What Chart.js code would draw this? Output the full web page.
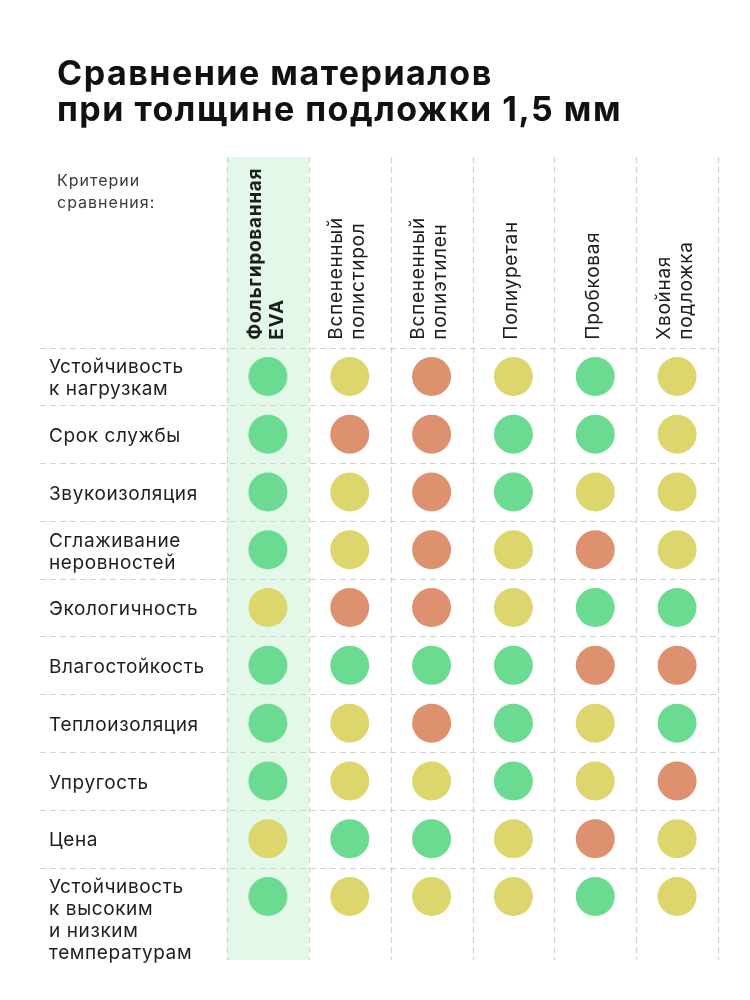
<!DOCTYPE html>
<html><head><meta charset="utf-8">
<script src="https://cdn.jsdelivr.net/npm/chart.js@4.4.1/dist/chart.umd.min.js"></script>
<style>html,body{margin:0;padding:0;background:#fff;}#wrap{width:750px;height:1000px;position:relative;}</style>
</head><body><div id="wrap"><canvas id="c"></canvas></div>
<script>
const titleLines = ["Сравнение материалов", "при толщине подложки 1,5 мм"];
const cornerLabel = ["Критерии", "сравнения:"];
const materials = [["Фольгированная","EVA"],["Вспененный","полистирол"],["Вспененный","полиэтилен"],["Полиуретан"],["Пробковая"],["Хвойная","подложка"]];
const criteria = [["Устойчивость","к нагрузкам"],["Срок службы"],["Звукоизоляция"],["Сглаживание","неровностей"],["Экологичность"],["Влагостойкость"],["Теплоизоляция"],["Упругость"],["Цена"],["Устойчивость","к высоким","и низким","температурам"]];
// 3 = green (хорошо), 2 = yellow (средне), 1 = orange (плохо); order follows criteria
const foilEVA      = [3,3,3,3,2,3,3,3,2,3];
const polystyrene  = [2,1,2,2,1,3,2,2,3,2];
const polyethylene = [1,1,1,1,1,3,1,2,3,2];
const polyurethane = [2,3,3,2,2,3,3,3,2,2];
const cork         = [3,3,2,1,3,1,2,2,1,3];
const conifer      = [2,2,2,2,3,1,3,1,2,2];
const ratings = [foilEVA, polystyrene, polyethylene, polyurethane, cork, conifer];
const levels = [3,2,1];
const levelColors = {3:'#6cdb92', 2:'#ddd66c', 1:'#dd916e'};

const FONT = 'Inter, "Noto Sans", sans-serif';

const datasets = levels.map(lv => {
  const pts = [];
  ratings.forEach((col, j) => col.forEach((v, i) => { if (v === lv) pts.push({x: j + 0.5, y: i + 0.5}); }));
  return {data: pts, backgroundColor: levelColors[lv], borderWidth: 0, pointRadius: 19.5, pointHoverRadius: 19.5};
});

function spacing(ctx, px) { if ('letterSpacing' in ctx) ctx.letterSpacing = px + 'px'; }

const tablePlugin = {
  id: 'table',
  beforeDatasetsDraw(chart) {
    const {ctx, chartArea: ca, scales: {x, y}} = chart;
    ctx.save();
    // highlighted first column
    ctx.fillStyle = '#e3f8e8';
    ctx.fillRect(x.getPixelForValue(0), ca.top, x.getPixelForValue(1) - x.getPixelForValue(0), ca.bottom - ca.top);
    // dashed grid
    ctx.strokeStyle = '#d2d2d2';
    ctx.lineWidth = 1.2;
    ctx.setLineDash([6, 4]);
    for (let j = 0; j <= materials.length; j++) {
      const px = Math.round(x.getPixelForValue(j)) + 0.5;
      ctx.beginPath(); ctx.moveTo(px, ca.top); ctx.lineTo(px, ca.bottom); ctx.stroke();
    }
    for (let i = 0; i < criteria.length; i++) {
      const py = Math.round(y.getPixelForValue(i)) + 0.5;
      ctx.beginPath(); ctx.moveTo(40, py); ctx.lineTo(ca.right, py); ctx.stroke();
    }
    ctx.setLineDash([]);
    // title
    ctx.fillStyle = '#111';
    ctx.textAlign = 'left';
    ctx.textBaseline = 'alphabetic';
    ctx.font = 'bold 34px ' + FONT;
    spacing(ctx, 1.5);
    ctx.fillText(titleLines[0], 57, 85);
    ctx.fillText(titleLines[1], 57, 121);
    // corner label
    ctx.fillStyle = '#3a3a3a';
    ctx.font = '16px ' + FONT;
    spacing(ctx, 1);
    ctx.textBaseline = 'middle';
    cornerLabel.forEach((t, k) => ctx.fillText(t, 57, 181 + k * 22));
    // row labels
    ctx.fillStyle = '#1e1e1e';
    ctx.font = '19px ' + FONT;
    spacing(ctx, 0.6);
    const lh = 22;
    criteria.forEach((lines, i) => {
      const cy = y.getPixelForValue(i + 0.5) + 2;
      const start = cy - Math.min(lines.length - 1, 1) * lh / 2;
      lines.forEach((t, k) => ctx.fillText(t, 49, start + k * lh));
    });
    // column headers (rotated)
    const bottom = y.getPixelForValue(0) - 8;
    materials.forEach((lines, j) => {
      const cx = x.getPixelForValue(j + 0.5) - 2;
      ctx.save();
      ctx.translate(cx, bottom);
      ctx.rotate(-Math.PI / 2);
      ctx.font = (j === 0 ? 'bold ' : '') + '19px ' + FONT;
      spacing(ctx, 0.7);
      ctx.fillStyle = '#1e1e1e';
      ctx.textAlign = 'left';
      ctx.textBaseline = 'middle';
      lines.forEach((t, k) => ctx.fillText(t, 0, (k - (lines.length - 1) / 2) * lh));
      ctx.restore();
    });
    ctx.restore();
  }
};

new Chart(document.getElementById('c'), {
  type: 'scatter',
  data: {datasets},
  options: {
    responsive: true,
    maintainAspectRatio: false,
    animation: false,
    events: [],
    layout: {padding: {left: 227, right: 32, top: 157, bottom: 40}},
    plugins: {legend: {display: false}, tooltip: {enabled: false}},
    scales: {
      x: {type: 'linear', min: 0, max: materials.length, display: false},
      y: {type: 'linear', reverse: true, min: -3.3, max: 10.6, display: false}
    }
  },
  plugins: [tablePlugin]
});
</script></body></html>
